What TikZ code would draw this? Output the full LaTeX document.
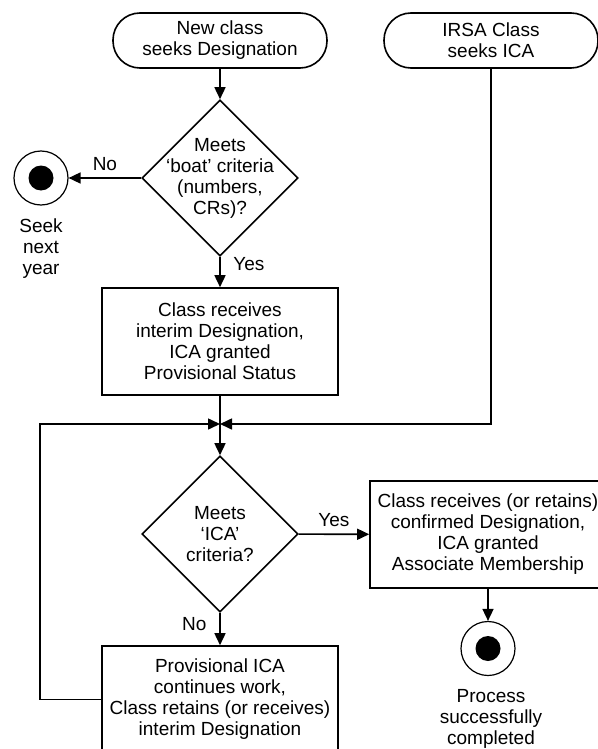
\documentclass[tikz,border=0pt]{standalone}
\usepackage{fontspec}
\setmainfont{Liberation Sans}
\usetikzlibrary{shapes.geometric, arrows.meta}

\begin{document}
\begin{tikzpicture}[x=0.5pt, y=-0.5pt, line width=0.8pt,
                    every node/.style={font=\fontsize{9.5}{10.5}\selectfont, align=center},
                    terminal/.style={draw, rectangle, rounded corners=13.5pt, minimum width=107pt, minimum height=27.5pt, inner sep=0pt},
                    process/.style={draw, rectangle, minimum width=118pt, minimum height=53.5pt, inner sep=0pt},
                    decision/.style={draw, diamond, aspect=1, inner sep=-5pt, minimum width=78pt, minimum height=78pt},
                    endstate/.style={draw, circle, line width=0.6pt, minimum size=27pt, inner sep=0pt,
                        path picture={\fill (path picture bounding box.center) circle (6.25pt);}},
                    flow/.style={-{Triangle[length=6pt, width=5.5pt]}}]
                    \clip (0,0) rectangle (598,749);

                    % Start
                    \node[terminal] (newclass) at (220,40.5) {New class\\seeks Designation};
                    \node[terminal] (irsa) at (491,40.5) {IRSA Class\\seeks ICA};

                    % Boat criteria
                    \node[decision] (boat) at (220,178) {Meets\\‘boat’ criteria\\(numbers,\\CRs)?};
                    \node[endstate] (seek) at (41,178) {};
                    \node (seektext) at (41,249) {Seek\\next\\year};
                    \node[process] (interim) at (220,341.5) {Class receives\\interim Designation,\\ICA granted\\Provisional Status};

                    % ICA criteria
                    \coordinate (join) at (220,424);
                    \coordinate (loopcorner) at (40,699.5);
                    \node[decision] (ica) at (220,534) {Meets\\‘ICA’\\criteria?};
                    \node[process] (assoc) at (488,534.5) {Class receives (or retains)\\confirmed Designation,\\ICA granted\\Associate Membership};
                    \node[endstate] (done) at (488,648.5) {};
                    \node (donetext) at (491,719) {Process\\successfully\\completed};
                    \node[process] (prov) at (220,699.5) {Provisional ICA\\continues work,\\Class retains (or receives)\\interim Designation};

                    % Flow
                    \draw[flow] (newclass) -- (boat);
                    \draw[flow] (boat) -- node[above] {No} (seek);
                    \draw[flow] (boat) -- node[right=3pt, pos=0.25] {Yes} (interim);
                    \draw[flow] (interim) -- (ica);
                    \draw[flow] (irsa) |- (join);
                    \draw[flow] (prov.west) -- (loopcorner) |- (join);
                    \draw[flow] (ica) -- node[above] {Yes} (assoc);
                    \draw[flow] (ica) -- node[left=3pt, pos=0.35] {No} (prov);
                    \draw[flow] (assoc) -- (done);
                \end{tikzpicture}
\end{document}
